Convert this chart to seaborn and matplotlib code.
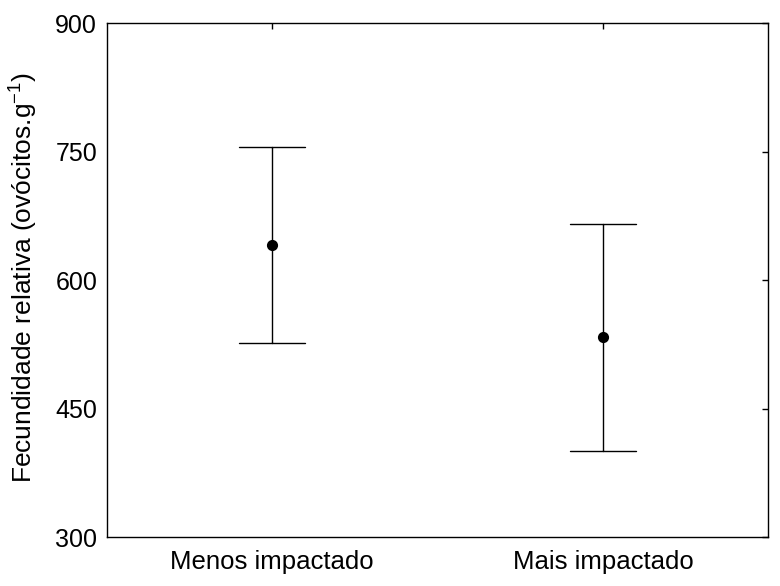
import pandas as pd
import seaborn as sns
import matplotlib
matplotlib.use("Agg")
import matplotlib.pyplot as plt

# data: lower limit, mean, upper limit per group
groups = ["Menos impactado", "Mais impactado"]
lower = [527, 400]
mean = [641, 533]
upper = [755, 665]
y_ticks = [300, 450, 600, 750, 900]

sns.set_theme(style="white")
plt.rcParams["font.family"] = ["Liberation Sans", "DejaVu Sans"]
plt.rcParams["mathtext.fontset"] = "custom"
plt.rcParams["mathtext.rm"] = "Liberation Sans"
plt.rcParams["mathtext.it"] = "Liberation Sans"

# long table: median of (lower, mean, upper) = mean, full range = limits
rows = []
for g, lo, m, hi in zip(groups, lower, mean, upper):
    for v in (lo, m, hi):
        rows.append({"grupo": g, "valor": v})
df = pd.DataFrame(rows)

fig = plt.figure(figsize=(7.8, 5.86), dpi=100)
ax = fig.add_axes([0.137, 0.0836, 0.848, 0.877])

sns.pointplot(data=df, x="grupo", y="valor", order=groups,
              estimator="median", errorbar=("pi", 100), capsize=0.2,
              color="black", linestyle="none", markersize=6,
              err_kws={"linewidth": 1.0}, ax=ax)

ax.set_xlim(-0.5, 1.5)
ax.set_ylim(300, 900)
ax.set_yticks(y_ticks)
ax.set_xlabel("")
ax.set_ylabel("Fecundidade relativa (ovócitos.g$^{-1}$)", fontsize=19, color="black")
ax.yaxis.set_label_coords(-0.101, 0.505)

for s in ax.spines.values():
    s.set_color("black")
    s.set_linewidth(1.0)
ax.tick_params(direction="in", length=4, width=1, colors="black",
               top=True, right=True, labelsize=18)
ax.tick_params(axis="x", pad=9, labelsize=18.5)
ax.tick_params(axis="y", pad=7)

fig.savefig("out.png", dpi=100, facecolor="white")
